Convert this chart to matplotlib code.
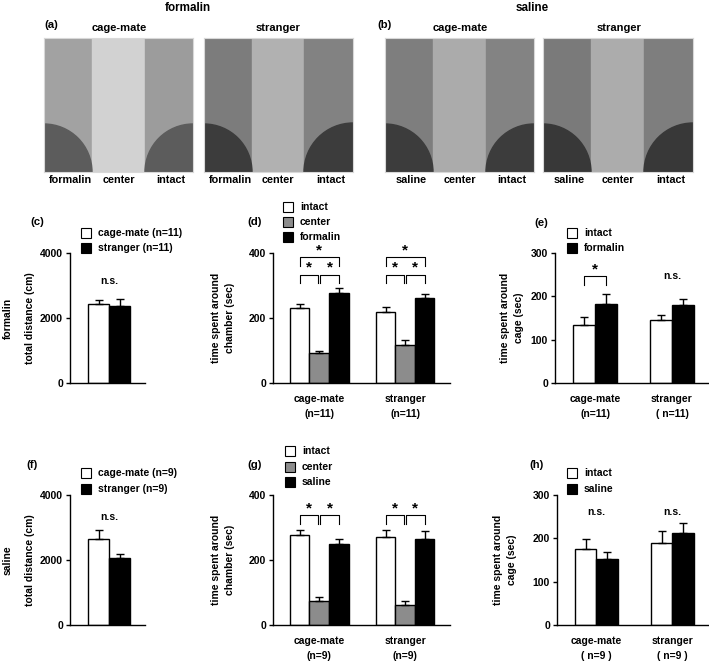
import matplotlib
matplotlib.use('Agg')
import matplotlib.pyplot as plt
from matplotlib.patches import Rectangle, Wedge

plt.rcParams['font.family'] = ['Liberation Sans', 'DejaVu Sans']
plt.rcParams['font.weight'] = 'bold'
plt.rcParams['axes.linewidth'] = 1.0

W, H = 709, 665

# ---- data ----
groups = ['cage-mate', 'stranger']

dist_legend_form = ['cage-mate (n=11)', 'stranger (n=11)']
dist_form = [2430, 2380]
dist_form_err = [110, 220]

dist_legend_sal = ['cage-mate (n=9)', 'stranger (n=9)']
dist_sal = [2650, 2070]
dist_sal_err = [280, 100]

chamber_form_names = ['intact', 'center', 'formalin']
chamber_form = [[230, 220], [92, 117], [277, 262]]
chamber_form_err = [[14, 14], [7, 14], [14, 12]]
chamber_form_xlabels = ['cage-mate\n(n=11)', 'stranger\n(n=11)']

chamber_sal_names = ['intact', 'center', 'saline']
chamber_sal = [[278, 270], [75, 63], [248, 265]]
chamber_sal_err = [[13, 22], [12, 10], [18, 25]]
chamber_sal_xlabels = ['cage-mate\n(n=9)', 'stranger\n(n=9)']

cage_form_names = ['intact', 'formalin']
cage_form = [[133, 146], [183, 181]]
cage_form_err = [[20, 12], [22, 14]]
cage_form_xlabels = ['cage-mate\n(n=11)', 'stranger\n( n=11)']

cage_sal_names = ['intact', 'saline']
cage_sal = [[175, 190], [152, 212]]
cage_sal_err = [[23, 26], [16, 24]]
cage_sal_xlabels = ['cage-mate\n( n=9 )', 'stranger\n( n=9 )']

FS = 7.5
fig = plt.figure(figsize=(W / 100, H / 100), dpi=100)


def px_axes(x0, y0, x1, y1):
    return fig.add_axes([x0 / W, 1 - y1 / H, (x1 - x0) / W, (y1 - y0) / H])


def ftext(x, y, s, **kw):
    kw.setdefault('fontsize', FS)
    kw.setdefault('fontweight', 'bold')
    fig.text(x / W, 1 - y / H, s, **kw)


def legend(x, rows_y, names, colors, text_dx=17):
    for yy, name, c in zip(rows_y, names, colors):
        fig.add_artist(Rectangle((x / W, 1 - (yy + 5) / H), 10 / W, 10 / H,
                                 transform=fig.transFigure, facecolor=c,
                                 edgecolor='black', linewidth=0.8))
        ftext(x + text_dx, yy, name, ha='left', va='center')


# ---- arena panels (zone layout only) ----
def arena(x0, x1, b1, b2, shades):
    ax = px_axes(x0, 38, x1, 172)
    w = x1 - x0
    ax.set_xlim(0, w)
    ax.set_ylim(0, 134)
    left, center, right, circ = shades
    ax.add_patch(Rectangle((0, 0), b1 - x0, 134, color=left))
    ax.add_patch(Rectangle((b1 - x0, 0), b2 - b1, 134, color=center))
    ax.add_patch(Rectangle((b2 - x0, 0), x1 - b2, 134, color=right))
    ax.add_patch(Wedge((0, 0), b1 - x0, 0, 90, color=circ))
    ax.add_patch(Wedge((w, 0), x1 - b2, 90, 180, color=circ))
    for s in ax.spines.values():
        s.set_color('#d8d8d8')
        s.set_linewidth(0.8)
    ax.set_xticks([])
    ax.set_yticks([])
    return ax


arenas = [
    (44, 193, 92, 145, ('#a2a2a2', '#d2d2d2', '#9c9c9c', '#5c5c5c'), ['formalin', 'center', 'intact']),
    (204, 353, 252, 304, ('#7c7c7c', '#b1b1b1', '#828282', '#3c3c3c'), ['formalin', 'center', 'intact']),
    (385, 534, 433, 486, ('#7e7e7e', '#ababab', '#838383', '#3c3c3c'), ['saline', 'center', 'intact']),
    (543, 693, 591, 644, ('#7a7a7a', '#acacac', '#7e7e7e', '#383838'), ['saline', 'center', 'intact']),
]
for x0, x1, b1, b2, shades, names in arenas:
    arena(x0, x1, b1, b2, shades)
    for cx, name in zip([(x0 + b1) / 2 + 2, (b1 + b2) / 2, (b2 + x1) / 2 + 2], names):
        ftext(cx, 180, name, ha='center', va='center', fontsize=7.8)

ftext(188, 8, 'formalin', ha='center', va='center', fontsize=8.4)
ftext(532, 8, 'saline', ha='center', va='center', fontsize=8.4)
ftext(44, 25, '(a)', ha='left', va='center', fontsize=8.2)
ftext(377, 25, '(b)', ha='left', va='center', fontsize=8.2)
for cx, name in [(119, 'cage-mate'), (278, 'stranger'), (460, 'cage-mate'), (619, 'stranger')]:
    ftext(cx, 28, name, ha='center', va='center', fontsize=8)


# ---- bar panels ----
def style_axes(ax, ymax, yticks):
    ax.set_ylim(0, ymax)
    ax.set_yticks(yticks)
    ax.spines['top'].set_visible(False)
    ax.spines['right'].set_visible(False)
    ax.tick_params(axis='y', length=3, width=1, labelsize=FS, pad=2)
    ax.tick_params(axis='x', length=0, labelsize=FS, pad=8)
    for lab in ax.get_yticklabels() + ax.get_xticklabels():
        lab.set_fontweight('bold')


def bracket(ax, xa, xb, ylo, yhi, star=True):
    ax.plot([xa, xa, xb, xb], [ylo, yhi, yhi, ylo], color='black', lw=0.8,
            clip_on=False)
    if star:
        ax.text((xa + xb) / 2, yhi, '*', ha='center', va='bottom',
                fontsize=11, fontweight='bold')


def errbars(ax, xs, vals, errs):
    ax.errorbar(xs, vals, yerr=[[0] * len(errs), errs], fmt='none',
                ecolor='black', elinewidth=1, capsize=3, capthick=1)


def dist_panel(y0, y1, vals, errs, names, ns_y):
    ax = px_axes(70, y0, 145, y1)
    xs = [0.5, 1.5]
    ax.bar(xs, vals, width=1, color=['white', 'black'], edgecolor='black', lw=1)
    errbars(ax, xs, vals, errs)
    ax.set_xlim(-0.857, 2.714)
    ax.set_xticks([])
    style_axes(ax, 4000, [0, 2000, 4000])
    ax.text(1.0, ns_y, 'n.s.', ha='center', va='center', fontsize=FS)
    return ax


def chamber_panel(y0, y1, vals, errs, xlabels):
    ax = px_axes(273, y0, 450, y1)
    colors = ['white', '#8c8c8c', 'black']
    off = 4.4
    for s in range(3):
        xs = [g * off + s + 0.5 for g in range(2)]
        ax.bar(xs, vals[s], width=1, color=colors[s], edgecolor='black', lw=1)
        errbars(ax, xs, vals[s], errs[s])
    ax.set_xlim(-0.87, 8.2)
    ax.set_xticks([g * off + 1.5 for g in range(2)])
    ax.set_xticklabels(xlabels, linespacing=1.6)
    style_axes(ax, 400, [0, 200, 400])
    return ax, off


def cage_panel(x0, y0, y1, vals, errs, xlabels):
    ax = px_axes(x0, y0, 708, y1)
    colors = ['white', 'black']
    off = 3.5
    for s in range(2):
        xs = [g * off + s + 0.5 for g in range(2)]
        ax.bar(xs, vals[s], width=1, color=colors[s], edgecolor='black', lw=1)
        errbars(ax, xs, vals[s], errs[s])
    ax.set_xlim(-0.82, 6.14)
    ax.set_xticks([g * off + 1 for g in range(2)])
    ax.set_xticklabels(xlabels, linespacing=1.6)
    style_axes(ax, 300, [0, 100, 200, 300])
    return ax, off


# row 1 : formalin
dist_panel(253, 383, dist_form, dist_form_err, dist_legend_form, 3140)
legend(81, [233, 248], dist_legend_form, ['white', 'black'])
ftext(30, 222, '(c)', ha='left', va='center', fontsize=8.2)
ftext(30, 318, 'total distance (cm)', rotation=90, ha='center', va='center')
ftext(8, 318, 'formalin', rotation=90, ha='center', va='center')

ax, off = chamber_panel(253, 383, chamber_form, chamber_form_err, chamber_form_xlabels)
for g in range(2):
    b = g * off
    bracket(ax, b + 0.5, b + 1.45, 308, 333)
    bracket(ax, b + 1.55, b + 2.5, 308, 333)
    bracket(ax, b + 0.5, b + 2.5, 361, 387)
legend(283, [207, 222, 237], chamber_form_names, ['white', '#8c8c8c', 'black'])
ftext(247, 222, '(d)', ha='left', va='center', fontsize=8.2)
ftext(223, 318, 'time spent around\nchamber (sec)', rotation=90, ha='center',
      va='center', linespacing=1.5)

ax, off = cage_panel(555, 253, 383, cage_form, cage_form_err, cage_form_xlabels)
bracket(ax, 0.5, 1.5, 227, 246)
ax.text(off + 1, 248, 'n.s.', ha='center', va='center', fontsize=FS)
legend(567, [233, 248], cage_form_names, ['white', 'black'])
ftext(534, 223, '(e)', ha='left', va='center', fontsize=8.2)
ftext(512, 318, 'time spent around\ncage (sec)', rotation=90, ha='center',
      va='center', linespacing=1.5)

# row 2 : saline
dist_panel(495, 625, dist_sal, dist_sal_err, dist_legend_sal, 3330)
legend(81, [473, 489], dist_legend_sal, ['white', 'black'])
ftext(26, 465, '(f)', ha='left', va='center', fontsize=8.2)
ftext(30, 560, 'total distance (cm)', rotation=90, ha='center', va='center')
ftext(8, 560, 'saline', rotation=90, ha='center', va='center')

ax, off = chamber_panel(495, 625, chamber_sal, chamber_sal_err, chamber_sal_xlabels)
for g in range(2):
    b = g * off
    bracket(ax, b + 0.5, b + 1.45, 310, 338)
    bracket(ax, b + 1.55, b + 2.5, 310, 338)
legend(285, [451, 467, 482], chamber_sal_names, ['white', '#8c8c8c', 'black'])
ftext(247, 465, '(g)', ha='left', va='center', fontsize=8.2)
ftext(223, 560, 'time spent around\nchamber (sec)', rotation=90, ha='center',
      va='center', linespacing=1.5)

ax, off = cage_panel(557, 495, 625, cage_sal, cage_sal_err, cage_sal_xlabels)
for g in range(2):
    ax.text(g * off + 1, 260, 'n.s.', ha='center', va='center', fontsize=FS)
legend(567, [473, 489], cage_sal_names, ['white', 'black'])
ftext(529, 465, '(h)', ha='left', va='center', fontsize=8.2)
ftext(505, 560, 'time spent around\ncage (sec)', rotation=90, ha='center',
      va='center', linespacing=1.5)

fig.savefig('out.png', dpi=100)
